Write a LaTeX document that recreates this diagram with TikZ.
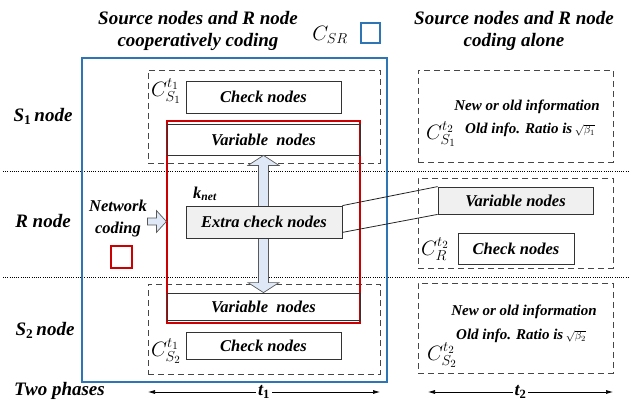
\documentclass[tikz,border=0pt]{standalone}
\usepackage{fontspec}
\setmainfont{Liberation Serif}
\usetikzlibrary{arrows.meta,calc}
\definecolor{myblue}{RGB}{46,117,182}
\definecolor{myred}{RGB}{204,0,0}
\definecolor{arrowfill}{RGB}{222,232,246}
\definecolor{boxgray}{RGB}{240,240,240}
\definecolor{dashgray}{RGB}{70,70,70}
\begin{document}
\begin{tikzpicture}[x=1pt,y=-1pt,
  txt/.style={font=\fontsize{16.5}{19}\selectfont\bfseries\itshape, inner sep=0pt},
  bigtxt/.style={font=\fontsize{19}{22}\selectfont\bfseries\itshape, inner sep=0pt, align=center},
  infotxt/.style={font=\fontsize{15}{17}\selectfont\bfseries\itshape, inner sep=0pt},
  mathlab/.style={font=\fontsize{22}{24}\selectfont, inner sep=0pt, text=black},
  nodebox/.style={draw=black!80, line width=0.8pt, txt, inner sep=0pt},
  dashbox/.style={draw=dashgray, line width=0.8pt, dash pattern=on 6pt off 4pt, inner sep=0pt},
  sepline/.style={line width=0.6pt, dash pattern=on 1pt off 1.2pt},
  blockarrow/.style={draw=black!65, line width=0.7pt, fill=arrowfill},
  conn/.style={draw=black!85, line width=0.8pt},
  span/.style={line width=0.7pt, {Latex[length=7pt,width=4pt]}-{Latex[length=7pt,width=4pt]}}
]
\useasboundingbox (0,0) rectangle (629,401);

% titles
\node[bigtxt] (titleL) at (198,31) {Source nodes and R node\\cooperatively coding};
\node[bigtxt] (titleR) at (514,31) {Source nodes and R node\\coding alone};
\node[mathlab] (csr) at (330,35) {$C_{SR}$};
\node[draw=myblue, line width=1.2pt, minimum width=19pt, minimum height=20pt, inner sep=0pt] (bluesq) at (370.5,33) {};

% separators
\coordinate (s1l) at (3,171); \coordinate (s1r) at (629,171);
\coordinate (s2l) at (3,277); \coordinate (s2r) at (629,277);
\draw[sepline] (s1l) -- (s1r);
\draw[sepline] (s2l) -- (s2r);

% row labels
\node[bigtxt] (s1lab) at (43,116) {\textit{S}\textsubscript{\upshape 1}\,node};
\node[bigtxt] (rlab) at (43,221) {R node};
\node[bigtxt] (s2lab) at (45,330) {\textit{S}\textsubscript{\upshape 2}\,node};
\node[bigtxt, anchor=west] (phases) at (14,391) {Two phases};

% left dashed boxes
\node[dashbox, minimum width=232pt, minimum height=93pt] (ds1) at (264,116.5) {};
\node[dashbox, minimum width=232pt, minimum height=90pt] (ds2) at (264,329) {};
% blue box
\node[draw=myblue, line width=1.2pt, minimum width=305pt, minimum height=324pt, inner sep=0pt] (bluebox) at (234.5,220) {};

% check nodes
\node[nodebox, minimum width=155pt, minimum height=32pt] (chk1) at (263.5,97) {Check nodes};
\node[nodebox, minimum width=155pt, minimum height=27pt] (chk2) at (263.5,345.5) {Check nodes};
\node[mathlab] (c1) at (166,91) {$C^{t_1}_{S_1}$};
\node[mathlab] (c2) at (166,351) {$C^{t_1}_{S_2}$};

% red box
\node[draw=myred, line width=1.2pt, minimum width=193pt, minimum height=202pt, inner sep=0pt] (redbox) at (263.5,222) {};
\node[nodebox, minimum width=193pt, minimum height=31pt] (var1) at (263.5,139.5) {Variable~ nodes};
\node[nodebox, minimum width=193pt, minimum height=27pt] (var2) at (263.5,306.5) {Variable~ nodes};

% double arrow between variable nodes
\coordinate (at) at (var1.south);
\coordinate (ab) at (var2.north);
\draw[blockarrow] (at) -- ($(at)+(15.5,10)$) -- ($(at)+(5,10)$) -- ($(ab)+(5,-10)$) -- ($(ab)+(15.5,-10)$)
  -- (ab) -- ($(ab)+(-15.5,-10)$) -- ($(ab)+(-5,-10)$) -- ($(at)+(-5,10)$) -- ($(at)+(-15.5,10)$) -- cycle;

% extra check nodes
\node[nodebox, fill=boxgray, minimum width=156pt, minimum height=32pt] (extra) at (264,222) {Extra check nodes};
\node[txt] (knet) at (205,194) {k\textsubscript{net}};

% network coding
\node[txt, align=center, font=\fontsize{16.5}{22}\selectfont\bfseries\itshape] (netcod) at (118,219) {Network\\coding};
\coordinate (nctip) at (redbox.west |- 0,221.5);
\draw[blockarrow] ($(nctip)+(-19,-3.5)$) -- ($(nctip)+(-10,-3.5)$) -- ($(nctip)+(-10,-11)$) -- (nctip)
  -- ($(nctip)+(-10,11)$) -- ($(nctip)+(-10,3.5)$) -- ($(nctip)+(-19,3.5)$) -- cycle;
\node[draw=myred, line width=1.2pt, minimum width=21pt, minimum height=22pt, inner sep=0pt] (redsq) at (121.5,257) {};

% right column
\node[dashbox, minimum width=195pt, minimum height=92pt] (dr1) at (515.5,116) {};
\node[dashbox, minimum width=195pt, minimum height=90pt] (dr2) at (515.5,223) {};
\node[dashbox, minimum width=195pt, minimum height=90pt] (dr3) at (515.5,328) {};

\node[infotxt] (new1) at (527,107) {New or old information};
\node[mathlab] (c3) at (441,134) {$C^{t_2}_{S_1}$};
\node[infotxt, anchor=west] (old1) at (465,130) {Old info. Ratio is\,{\fontsize{11}{12}\selectfont$\sqrt{\beta_1}$}};

\node[nodebox, fill=boxgray, minimum width=155pt, minimum height=27pt] (var3) at (515.5,200.5) {Variable nodes};
\node[nodebox, minimum width=116pt, minimum height=31pt] (chk3) at (516,248.5) {Check nodes};
\node[mathlab] (c4) at (435,249) {$C^{t_2}_{R}$};

\node[infotxt] (new2) at (524,312) {New or old information};
\node[infotxt, anchor=west] (old2) at (456,336) {Old info. Ratio is\,{\fontsize{11}{12}\selectfont$\sqrt{\beta_2}$}};
\node[mathlab] (c5) at (442,355) {$C^{t_2}_{S_2}$};

% connectors from extra check nodes to R variable nodes
\draw[conn] (extra.north east) -- (var3.north west);
\draw[conn] ($(extra.south east)+(0,-6)$) -- (var3.south west);

% time spans
\coordinate (t1a) at (148,392); \coordinate (t1b) at (380,392);
\coordinate (t2a) at (428,392); \coordinate (t2b) at (613,392);
\draw[span] (t1a) -- (t1b) node[midway, fill=white, inner sep=2pt, font=\fontsize{18}{20}\selectfont\bfseries\itshape] (t1) {t\textsubscript{\upshape 1}};
\draw[span] (t2a) -- (t2b) node[midway, fill=white, inner sep=2pt, font=\fontsize{18}{20}\selectfont\bfseries\itshape] (t2) {t\textsubscript{\upshape 2}};
\end{tikzpicture}
\end{document}
